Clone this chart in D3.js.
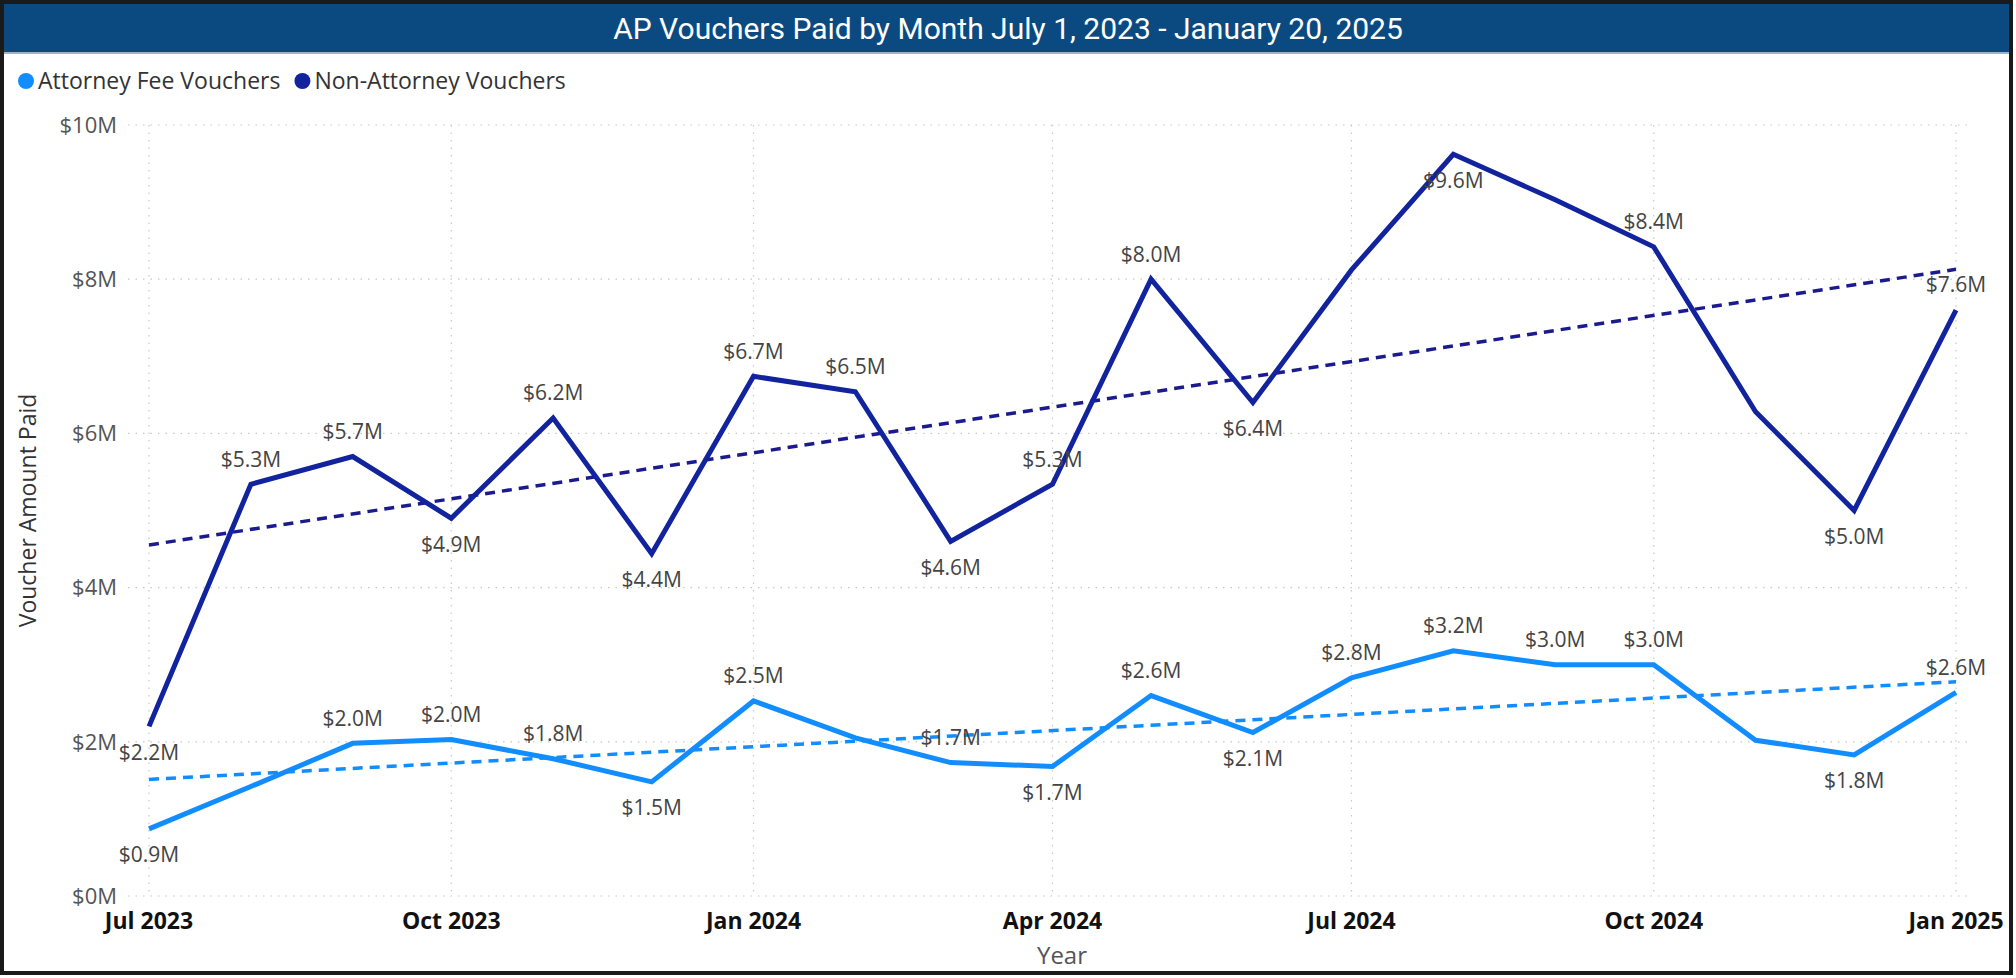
<!DOCTYPE html>
<html>
<head>
    <meta charset="utf-8">
    <title>AP Vouchers Paid by Month</title>
    <style type="text/css">
        html, body { margin: 0; padding: 0; background: #fff; }
        svg { display: block; }
        .lbl { font-family: "Open Sans", "Noto Sans", sans-serif; font-size: 21px; fill: #444; }
        .tick-y { font-family: "Open Sans", "Noto Sans", sans-serif; font-size: 22px; fill: #555; }
        .tick-x { font-family: "Open Sans", "Noto Sans", sans-serif; font-size: 23px; font-weight: 700; fill: #111; }
    </style>
</head>
<body>
<svg id="svg" width="2016" height="978"></svg>

<script src="https://cdn.jsdelivr.net/npm/d3@7"></script>
<script type="text/javascript">
    // months Jul 2023 .. Jan 2025
    var months = ['2023-07', '2023-08', '2023-09', '2023-10', '2023-11', '2023-12',
                  '2024-01', '2024-02', '2024-03', '2024-04', '2024-05', '2024-06',
                  '2024-07', '2024-08', '2024-09', '2024-10', '2024-11', '2024-12', '2025-01'];

    // values in $M
    var attorney = [0.87, 1.42, 1.98, 2.03, 1.78, 1.48, 2.53, 2.05, 1.73, 1.68, 2.6, 2.12,
                    2.83, 3.18, 3.0, 3.0, 2.02, 1.83, 2.64];
    var nonAttorney = [2.2, 5.34, 5.7, 4.9, 6.2, 4.44, 6.74, 6.54, 4.6, 5.34, 8.0, 6.4,
                       8.12, 9.62, 9.03, 8.42, 6.28, 5.0, 7.6];

    // where Power BI put each data label ('' = no label)
    var attorneyLabelPos = ['b', '', 'a', 'a', 'a', 'b', 'a', '', 'a', 'b', 'a', 'b',
                            'a', 'a', 'a', 'a', '', 'b', 'a'];
    var nonAttorneyLabelPos = ['b', 'a', 'a', 'b', 'a', 'b', 'a', 'a', 'b', 'a', 'a', 'b',
                               '', 'b', '', 'a', '', 'b', 'a'];

    var yTicks = [0, 2, 4, 6, 8, 10];
    var xTicks = ['2023-07', '2023-10', '2024-01', '2024-04', '2024-07', '2024-10', '2025-01'];

    var seriesNames = ['Attorney Fee Vouchers', 'Non-Attorney Vouchers'];
    var colors = ['#118DFF', '#12239E'];

    var parse = d3.timeParse('%Y-%m');
    var fmtTick = d3.timeFormat('%b %Y');

    var svg = d3.select('#svg');

    // frame + title bar
    svg.append('rect').attr('x', 2).attr('y', 2).attr('width', 2009).attr('height', 971)
        .attr('fill', '#fff').attr('stroke', '#1a1a1a').attr('stroke-width', 4);
    svg.append('rect').attr('x', 4).attr('y', 4).attr('width', 2005).attr('height', 48)
        .attr('fill', '#0b4a80');
    svg.append('line').attr('x1', 4).attr('x2', 2009).attr('y1', 53).attr('y2', 53)
        .attr('stroke', '#9fb4c8').attr('stroke-width', 2);
    svg.append('text')
        .attr('x', 1008).attr('y', 39)
        .attr('text-anchor', 'middle')
        .attr('fill', '#fff')
        .style('font-family', 'Roboto, sans-serif')
        .style('font-size', '30px')
        .style('font-weight', 400)
        .text('AP Vouchers Paid by Month July 1, 2023 - January 20, 2025');

    // legend
    var lx = 26;
    seriesNames.forEach(function (name, i) {
        svg.append('circle').attr('cx', lx).attr('cy', 81).attr('r', 8).attr('fill', colors[i]);
        var t = svg.append('text')
            .attr('x', lx + 12).attr('y', 81)
            .attr('dy', '0.35em')
            .attr('fill', '#333')
            .style('font-family', '"Open Sans", "Noto Sans", sans-serif')
            .style('font-size', '23px')
            .text(name);
        lx += 12 + t.node().getComputedTextLength() + 22;
    });

    var x = d3.scaleTime()
        .domain([parse(months[0]), parse(months[months.length - 1])])
        .range([149, 1956]);
    var y = d3.scaleLinear().domain([0, 10]).range([896, 125]);

    var gridLeft = 128, gridRight = 1967;

    // grid
    svg.append('g').selectAll('line.h')
        .data(yTicks).enter().append('line')
        .attr('x1', gridLeft).attr('x2', gridRight)
        .attr('y1', (d) => y(d)).attr('y2', (d) => y(d))
        .attr('stroke', '#c8c8c8').attr('stroke-width', 1.2)
        .attr('stroke-dasharray', '1.5,6');
    svg.append('g').selectAll('line.v')
        .data(xTicks).enter().append('line')
        .attr('x1', (d) => x(parse(d))).attr('x2', (d) => x(parse(d)))
        .attr('y1', y(10)).attr('y2', y(0))
        .attr('stroke', '#c8c8c8').attr('stroke-width', 1.2)
        .attr('stroke-dasharray', '1.5,6');

    // y tick labels
    svg.append('g').selectAll('text')
        .data(yTicks).enter().append('text')
        .attr('class', 'tick-y')
        .attr('x', 117).attr('y', (d) => y(d))
        .attr('dy', '0.35em')
        .attr('text-anchor', 'end')
        .text((d) => '$' + d + 'M');

    // x tick labels
    svg.append('g').selectAll('text')
        .data(xTicks).enter().append('text')
        .attr('class', 'tick-x')
        .attr('x', (d) => x(parse(d))).attr('y', 929)
        .attr('text-anchor', 'middle')
        .text((d) => fmtTick(parse(d)));

    // axis titles
    svg.append('text')
        .attr('transform', 'translate(36,' + ((y(0) + y(10)) / 2) + ') rotate(-90)')
        .attr('text-anchor', 'middle')
        .attr('fill', '#333')
        .style('font-family', '"Open Sans", "Noto Sans", sans-serif')
        .style('font-size', '23px')
        .text('Voucher Amount Paid');
    svg.append('text')
        .attr('x', 1062).attr('y', 964)
        .attr('text-anchor', 'middle')
        .attr('fill', '#555')
        .style('font-family', '"Open Sans", "Noto Sans", sans-serif')
        .style('font-size', '24px')
        .text('Year');

    // least squares trend over the month index
    function trend(vals) {
        var n = vals.length;
        var mx = (n - 1) / 2, my = d3.mean(vals);
        var sxy = 0, sxx = 0;
        vals.forEach(function (v, i) { sxy += (i - mx) * (v - my); sxx += (i - mx) * (i - mx); });
        var b = sxy / sxx;
        return [my - b * mx, my + b * (n - 1 - mx)];
    }

    var line = d3.line()
        .x((d) => x(parse(d.m)))
        .y((d) => y(d.v));

    var series = [attorney, nonAttorney];
    var labelPos = [attorneyLabelPos, nonAttorneyLabelPos];

    series.forEach(function (vals, s) {
        var pts = vals.map((v, i) => ({m: months[i], v: v, pos: labelPos[s][i]}));
        var t = trend(vals);
        var tpts = [{m: months[0], v: t[0]}, {m: months[months.length - 1], v: t[1]}];

        svg.append('path')
            .attr('d', line(tpts))
            .attr('fill', 'none')
            .attr('stroke', s === 0 ? colors[0] : '#1b1b8f')
            .attr('stroke-width', 3.5)
            .attr('stroke-dasharray', '10,7');

        svg.append('path')
            .attr('d', line(pts))
            .attr('fill', 'none')
            .attr('stroke', colors[s])
            .attr('stroke-width', 5)
            .attr('stroke-linejoin', 'miter');

        svg.append('g').selectAll('text')
            .data(pts.filter((d) => d.pos))
            .enter().append('text')
            .attr('class', 'lbl')
            .attr('x', (d) => x(parse(d.m)))
            .attr('y', (d) => y(d.v) + (d.pos === 'a' ? -25 : 26))
            .attr('dy', '0.35em')
            .attr('text-anchor', 'middle')
            .text((d) => '$' + d.v.toFixed(1) + 'M');
    });
</script>
</body>
</html>
